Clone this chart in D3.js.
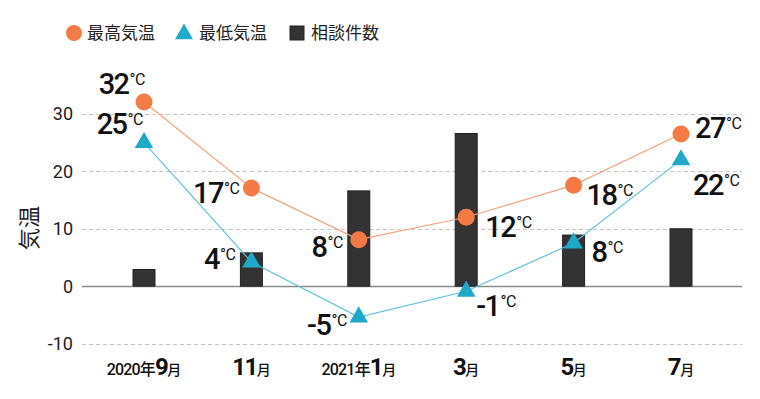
<!DOCTYPE html>
<html>
<head>
<meta charset="utf-8">
<script src="https://cdn.jsdelivr.net/npm/d3@7"></script>
<style>
  body { margin: 0; background: #fff; }
  svg { display: block; font-family: Roboto, "Noto Sans CJK JP", sans-serif; }
</style>
</head>
<body>
<div id="chart"></div>
<script>
// data
const months = ["2020-09", "2020-11", "2021-01", "2021-03", "2021-05", "2021-07"];
const monthLabels = [
  ["2020年", "9", "月"], ["", "11", "月"], ["2021年", "1", "月"],
  ["", "3", "月"], ["", "5", "月"], ["", "7", "月"]
];
const highTemp = [32.1, 17.1, 8.1, 12.0, 17.6, 26.5];
const lowTemp = [25.0, 4.2, -5.4, -0.9, 7.5, 22.0];
const consults = [2.9, 5.8, 16.6, 26.6, 8.9, 10.0];
const yTicks = [-10, 0, 10, 20, 30];

const width = 760, height = 399;
const margin = {top: 114, right: 18, bottom: 56, left: 82};

const orange = "#f47b45", orangeLine = "#f5a27e";
const blue = "#1fa9c9", blueLine = "#62c1da";

// label placement for each point: anchor, dx, dy (baseline)
const highPlace = [["end", 1, -8], ["end", -12, 15], ["end", -16, 17],
                   ["start", 19, 20], ["start", 13, 20], ["start", 14, 4]];
const lowPlace = [["end", -1, -9], ["end", -16, 7], ["end", -12, 18],
                  ["start", 10, 25], ["start", 18, 19], ["start", 12, 35]];

const svg = d3.select("#chart").append("svg")
  .attr("width", width)
  .attr("height", height);

const x = d3.scalePoint()
  .domain(months)
  .range([144, 681]);

const y = d3.scaleLinear()
  .domain([-10, 30])
  .range([343.5, 114]);

// grid
svg.append("g")
  .selectAll("line")
  .data(yTicks)
  .join("line")
    .attr("x1", margin.left)
    .attr("x2", width - margin.right)
    .attr("y1", d => Math.round(y(d)) + 0.5)
    .attr("y2", d => Math.round(y(d)) + 0.5)
    .attr("stroke", d => d === 0 ? "#8a8a8a" : "#c4c4c4")
    .attr("stroke-width", d => d === 0 ? 1.5 : 1)
    .attr("stroke-dasharray", d => d === 0 ? null : "4,3");

// y tick labels
svg.append("g")
  .selectAll("text")
  .data(yTicks)
  .join("text")
    .attr("x", 73)
    .attr("y", d => y(d))
    .attr("dy", "0.36em")
    .attr("text-anchor", "end")
    .attr("font-size", 18)
    .attr("fill", "#222")
    .text(d => d);

svg.append("text")
  .attr("transform", "translate(37,228) rotate(-90)")
  .attr("text-anchor", "middle")
  .attr("font-size", 22)
  .attr("fill", "#222")
  .attr("font-family", "'Noto Sans CJK JP', sans-serif")
  .text("気温");

// bars
svg.append("g")
  .selectAll("rect")
  .data(consults)
  .join("rect")
    .attr("x", (d, i) => x(months[i]) - 11)
    .attr("y", d => y(d))
    .attr("width", 22)
    .attr("height", d => y(0) - y(d))
    .attr("fill", "#333")
    .attr("stroke", "#222")
    .attr("stroke-width", 1);

// x labels
const xl = svg.append("g")
  .selectAll("text")
  .data(monthLabels)
  .join("text")
    .attr("x", (d, i) => x(months[i]))
    .attr("y", 375)
    .attr("text-anchor", "middle")
    .attr("fill", "#111")
    .attr("font-weight", 500);
xl.append("tspan").attr("font-size", 16).attr("letter-spacing", -0.8).text(d => d[0]);
xl.append("tspan").attr("font-size", 24).attr("font-weight", 700).attr("letter-spacing", -1.5).text(d => d[1]);
xl.append("tspan").attr("font-size", 14).text(d => d[2]);

// lines
const line = d3.line()
  .x((d, i) => x(months[i]))
  .y(d => y(d));

svg.append("path")
  .datum(highTemp)
  .attr("fill", "none")
  .attr("stroke", orangeLine)
  .attr("stroke-width", 1.2)
  .attr("d", line);

svg.append("path")
  .datum(lowTemp)
  .attr("fill", "none")
  .attr("stroke", blueLine)
  .attr("stroke-width", 1.2)
  .attr("d", line);

const tri = d3.symbol().type(d3.symbolTriangle).size(150);

svg.append("g")
  .selectAll("path")
  .data(lowTemp)
  .join("path")
    .attr("transform", (d, i) => `translate(${x(months[i])},${y(d)})`)
    .attr("d", tri)
    .attr("fill", blue);

svg.append("g")
  .selectAll("circle")
  .data(highTemp)
  .join("circle")
    .attr("cx", (d, i) => x(months[i]))
    .attr("cy", d => y(d))
    .attr("r", 8.5)
    .attr("fill", orange);

// value labels
function drawLabels(values, place) {
  const t = svg.append("g")
    .selectAll("text")
    .data(values)
    .join("text")
      .attr("x", (d, i) => x(months[i]) + place[i][1])
      .attr("y", (d, i) => y(d) + place[i][2])
      .attr("text-anchor", (d, i) => place[i][0])
      .attr("fill", "#111");
  t.append("tspan")
    .attr("font-size", 29)
    .attr("font-weight", 500)
    .attr("letter-spacing", -1.5)
    .text(d => Math.round(d));
  t.append("tspan")
    .attr("font-size", 16)
    .attr("dy", -9)
    .attr("dx", 1)
    .attr("letter-spacing", -0.5)
    .text("°C");
}
drawLabels(highTemp, highPlace);
drawLabels(lowTemp, lowPlace);

// legend
const legend = svg.append("g").attr("font-size", 17).attr("fill", "#222")
  .attr("font-family", "'Noto Sans CJK JP', sans-serif");
legend.append("circle").attr("cx", 74).attr("cy", 33).attr("r", 8).attr("fill", orange);
legend.append("text").attr("x", 87).attr("y", 39).text("最高気温");
legend.append("path").attr("transform", "translate(184,34)").attr("d", d3.symbol().type(d3.symbolTriangle).size(140)).attr("fill", blue);
legend.append("text").attr("x", 199).attr("y", 39).text("最低気温");
legend.append("rect").attr("x", 290).attr("y", 26).attr("width", 14).attr("height", 14).attr("fill", "#333").attr("stroke", "#222");
legend.append("text").attr("x", 311).attr("y", 39).text("相談件数");
</script>
</body>
</html>
